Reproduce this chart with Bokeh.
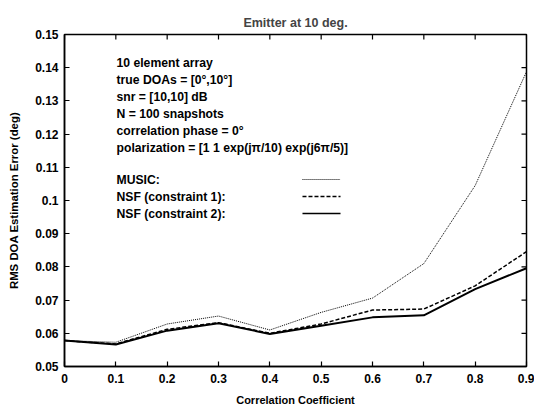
import math
from bokeh.plotting import figure
from bokeh.models import FixedTicker, Label, Range1d
from bokeh.embed import file_html
from bokeh.resources import INLINE

# ---- data ----
corr = [0.0, 0.1, 0.2, 0.3, 0.4, 0.5, 0.6, 0.7, 0.8, 0.9]
music = [0.0578, 0.0573, 0.0628, 0.0652, 0.0610, 0.0663, 0.0706, 0.0810, 0.1045, 0.1388]
nsf1 = [0.0578, 0.0568, 0.0612, 0.0632, 0.0600, 0.0628, 0.0670, 0.0673, 0.0743, 0.0846]
nsf2 = [0.0578, 0.0566, 0.0608, 0.0630, 0.0598, 0.0623, 0.0648, 0.0654, 0.0733, 0.0796]

x_ticks = [0.0, 0.1, 0.2, 0.3, 0.4, 0.5, 0.6, 0.7, 0.8, 0.9]
x_tick_labels = ["0", "0.1", "0.2", "0.3", "0.4", "0.5", "0.6", "0.7", "0.8", "0.9"]
y_ticks = [0.05, 0.06, 0.07, 0.08, 0.09, 0.10, 0.11, 0.12, 0.13, 0.14, 0.15]
y_tick_labels = ["0.05", "0.06", "0.07", "0.08", "0.09", "0.1", "0.11", "0.12", "0.13", "0.14", "0.15"]

info_lines = [
    "10 element array",
    "true DOAs = [0\u00b0,10\u00b0]",
    "snr = [10,10] dB",
    "N = 100 snapshots",
    "correlation phase = 0\u00b0",
    "polarization = [1 1 exp(j\u03c0/10) exp(j6\u03c0/5)]",
]
legend_names = ["MUSIC:", "NSF (constraint 1):", "NSF (constraint 2):"]

FONT = "Liberation Sans"
W, H = 534, 411
BL, BR, BT, BB = 64, 8, 34, 45
X0, X1, Y0, Y1 = 0.0, 0.9, 0.05, 0.15

p = figure(width=W, height=H, output_backend="svg", toolbar_location=None,
           x_range=Range1d(X0, X1), y_range=Range1d(Y0, Y1),
           min_border_left=BL, min_border_right=BR, min_border_top=BT, min_border_bottom=BB,
           title="Emitter at 10 deg.")
p.title.align = "center"
p.title.text_font = FONT
p.title.text_font_style = "bold"
p.title.text_font_size = "12.5px"
p.title.offset = 0

p.outline_line_color = "black"
p.outline_line_width = 1.5
p.xgrid.visible = False
p.ygrid.visible = False
p.background_fill_color = "white"
p.border_fill_color = "white"

def style_axis(ax, ticks, labels):
    ax.ticker = FixedTicker(ticks=ticks)
    ax.major_label_overrides = {t: l for t, l in zip(ticks, labels)}
    ax.major_tick_in = 5
    ax.major_tick_out = 0
    ax.minor_tick_in = 0
    ax.minor_tick_out = 0
    ax.axis_line_color = "black"
    ax.axis_line_width = 1.5
    ax.major_tick_line_width = 1.2
    ax.major_label_text_font = FONT
    ax.major_label_text_font_style = "bold"
    ax.major_label_text_font_size = "12px"
    ax.major_label_text_color = "black"
    ax.axis_label_text_font = FONT
    ax.axis_label_text_font_style = "bold"
    ax.axis_label_text_color = "black"

style_axis(p.xaxis[0], x_ticks, x_tick_labels)
style_axis(p.yaxis[0], y_ticks, y_tick_labels)
p.xaxis.major_label_standoff = 7
p.yaxis.major_label_standoff = 6

p.xaxis.axis_label = "Correlation Coefficient"
p.yaxis.axis_label = "RMS DOA Estimation Error (deg)"
p.xaxis.axis_label_text_font_size = "11px"
p.yaxis.axis_label_text_font_size = "11.4px"
p.xaxis.axis_label_standoff = 8
p.yaxis.axis_label_standoff = 12

# inward ticks on the top and right edges of the box
p.ray(x=x_ticks, y=[Y1] * len(x_ticks), length=5, length_units="screen",
      angle=-math.pi / 2, line_color="black", line_width=1.2)
p.ray(x=[X1] * len(y_ticks), y=y_ticks, length=5, length_units="screen",
      angle=math.pi, line_color="black", line_width=1.2)

p.line(corr, music, line_color="black", line_width=1, line_dash="1 1")
p.line(corr, nsf1, line_color="black", line_width=1.5, line_dash="4 2")
p.line(corr, nsf2, line_color="black", line_width=2)

# annotation block (screen-positioned text)
TX = 52
TY0 = 28
DY = 17
frame_h = H - BT - BB
TXT_SIZE = "12.2px"
for i, s in enumerate(info_lines):
    p.add_layout(Label(x=TX, y=frame_h - TY0 - i * DY, x_units="screen", y_units="screen",
                       text=s, text_font=FONT, text_font_style="bold", text_font_size=TXT_SIZE,
                       text_baseline="middle", text_color="black"))
LY0 = TY0 + 117
dashes = ["1 1", "4 2", "solid"]
widths = [1, 1.5, 1.5]
for i, s in enumerate(legend_names):
    yy = frame_h - LY0 - i * DY
    p.add_layout(Label(x=TX, y=yy, x_units="screen", y_units="screen",
                       text=s, text_font=FONT, text_font_style="bold", text_font_size=TXT_SIZE,
                       text_baseline="middle", text_color="black"))

# legend samples
leg_x = [0.4636, 0.5377]
for i in range(3):
    yv = Y1 - (LY0 + i * DY) / frame_h * (Y1 - Y0)
    p.line(leg_x, [yv, yv], line_color="black", line_width=widths[i], line_dash=dashes[i])

open("out.html", "w").write(file_html(p, INLINE))
